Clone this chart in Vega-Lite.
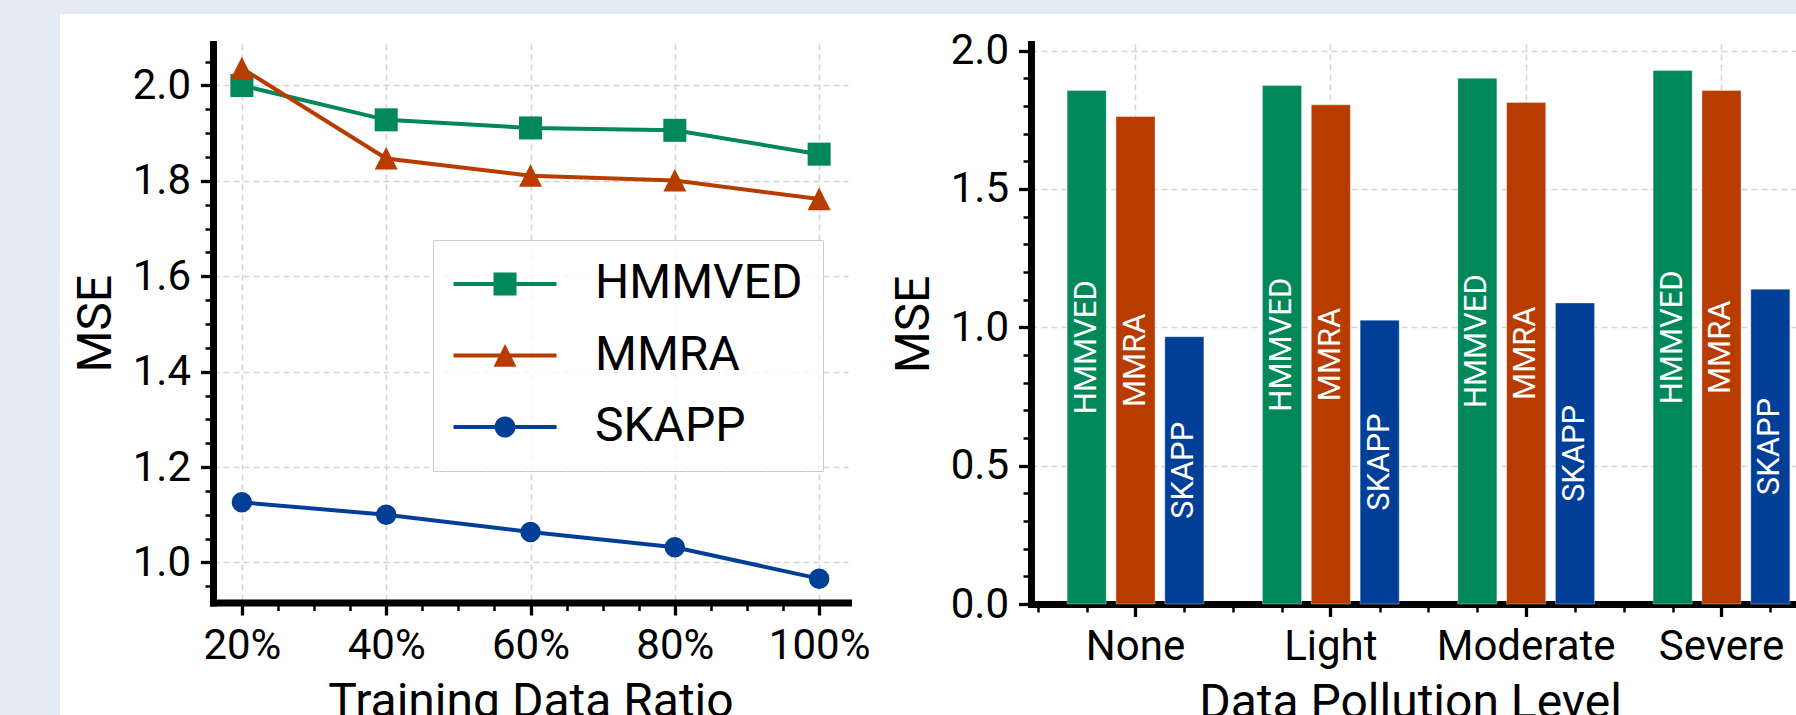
{
  "$schema": "https://vega.github.io/schema/vega-lite/v6.json",
  "autosize": {"type": "none"},
  "padding": {"left": 0, "top": 0, "right": 1796, "bottom": 715},
  "background": "#ffffff",
  "config": {
    "font": "Roboto",
    "view": {"stroke": null},
    "axis": {
      "labelFont": "Roboto", "labelFontSize": 42, "labelColor": "#000000",
      "titleFont": "Roboto", "titleFontSize": 48, "titleFontWeight": "normal", "titleColor": "#000000",
      "domainColor": "#000000", "domainWidth": 7, "domainCap": "square",
      "tickColor": "#000000", "tickWidth": 3.3, "tickSize": 12.5,
      "gridColor": "#d4d4d4", "gridDash": [6, 4], "gridWidth": 1.5,
      "labelPadding": 10, "titlePadding": 12, "labelFlush": false, "labelOverlap": false, "zindex": 1
    }
  },
  "bounds": "flush",
  "spacing": 0,
  "vconcat": [
    {"width": 1796, "height": 14, "data": {"values": []}, "mark": "rect", "view": {"fill": "#e4ebf4", "stroke": null}},
    {
      "bounds": "flush",
      "spacing": 153,
      "hconcat": [
        {"width": 60, "height": 701, "data": {"values": []}, "mark": "rect", "view": {"fill": "#e4ebf4", "stroke": null}},
        {
          "bounds": "flush",
          "spacing": 0,
          "vconcat": [
            {"width": 1, "height": 29.5, "data": {"values": []}, "mark": "rect"},
            {
              "bounds": "flush",
              "spacing": 183,
              "hconcat": [
                {
                  "width": 635,
                  "height": 558.5,
                  "data": {"values": [
                    {"ratio": 20, "model": "HMMVED", "mse": 2.000},
                    {"ratio": 40, "model": "HMMVED", "mse": 1.928},
                    {"ratio": 60, "model": "HMMVED", "mse": 1.911},
                    {"ratio": 80, "model": "HMMVED", "mse": 1.906},
                    {"ratio": 100, "model": "HMMVED", "mse": 1.856},
                    {"ratio": 20, "model": "MMRA", "mse": 2.036},
                    {"ratio": 40, "model": "MMRA", "mse": 1.847},
                    {"ratio": 60, "model": "MMRA", "mse": 1.811},
                    {"ratio": 80, "model": "MMRA", "mse": 1.801},
                    {"ratio": 100, "model": "MMRA", "mse": 1.762},
                    {"ratio": 20, "model": "SKAPP", "mse": 1.126},
                    {"ratio": 40, "model": "SKAPP", "mse": 1.100},
                    {"ratio": 60, "model": "SKAPP", "mse": 1.064},
                    {"ratio": 80, "model": "SKAPP", "mse": 1.032},
                    {"ratio": 100, "model": "SKAPP", "mse": 0.966}
                  ]},
                  "layer": [
                    {
                      "mark": {"type": "line", "strokeWidth": 4},
                      "encoding": {
                        "x": {"field": "ratio", "type": "quantitative", "scale": {"domain": [16, 104], "nice": false, "zero": false},
                              "axis": {"orient": "bottom", "values": [20, 40, 60, 80, 100], "labelExpr": "datum.value + '%'", "title": "Training Data Ratio", "grid": true}},
                        "y": {"field": "mse", "type": "quantitative", "scale": {"domain": [0.916, 2.087], "nice": false, "zero": false},
                              "axis": {"orient": "left", "values": [1.0, 1.2, 1.4, 1.6, 1.8, 2.0], "format": ".1f", "title": "MSE", "grid": true}},
                        "color": {"field": "model", "type": "nominal",
                                  "scale": {"domain": ["HMMVED", "MMRA", "SKAPP"], "range": ["#00885a", "#b83c00", "#003f98"]},
                                  "legend": {
                                    "orient": "none", "legendX": 433, "legendY": 240, "title": null,
                                    "labelFont": "Roboto", "labelFontSize": 48, "labelColor": "#000000", "labelLimit": 0,
                                    "symbolSize": 529, "symbolStrokeWidth": 0, "symbolOffset": -12, "labelOffset": 106,
                                    "padding": 20, "rowPadding": 23.5,
                                    "strokeColor": "#cccccc", "fillColor": "rgba(255,255,255,0.8)"
                                  }}
                      }
                    },
                    {
                      "transform": [{"filter": "datum.model === 'HMMVED'"}],
                      "mark": {"type": "point", "shape": "square", "filled": true, "size": 529, "opacity": 1},
                      "encoding": {
                        "x": {"field": "ratio", "type": "quantitative", "scale": {"domain": [16, 104], "nice": false, "zero": false}, "axis": null},
                        "y": {"field": "mse", "type": "quantitative", "scale": {"domain": [0.916, 2.087], "nice": false, "zero": false}, "axis": null},
                        "color": {"field": "model", "type": "nominal", "scale": {"domain": ["HMMVED", "MMRA", "SKAPP"], "range": ["#00885a", "#b83c00", "#003f98"]}, "legend": null}
                      }
                    },
                    {
                      "transform": [{"filter": "datum.model === 'MMRA'"}],
                      "mark": {"type": "point", "shape": "M0,-1L1,0.97H-1Z", "filled": true, "size": 529, "opacity": 1},
                      "encoding": {
                        "x": {"field": "ratio", "type": "quantitative", "scale": {"domain": [16, 104], "nice": false, "zero": false}, "axis": null},
                        "y": {"field": "mse", "type": "quantitative", "scale": {"domain": [0.916, 2.087], "nice": false, "zero": false}, "axis": null},
                        "color": {"field": "model", "type": "nominal", "scale": {"domain": ["HMMVED", "MMRA", "SKAPP"], "range": ["#00885a", "#b83c00", "#003f98"]}, "legend": null}
                      }
                    },
                    {
                      "transform": [{"filter": "datum.model === 'SKAPP'"}],
                      "mark": {"type": "point", "shape": "circle", "filled": true, "size": 420, "opacity": 1},
                      "encoding": {
                        "x": {"field": "ratio", "type": "quantitative", "scale": {"domain": [16, 104], "nice": false, "zero": false}, "axis": null},
                        "y": {"field": "mse", "type": "quantitative", "scale": {"domain": [0.916, 2.087], "nice": false, "zero": false}, "axis": null},
                        "color": {"field": "model", "type": "nominal", "scale": {"domain": ["HMMVED", "MMRA", "SKAPP"], "range": ["#00885a", "#b83c00", "#003f98"]}, "legend": null}
                      }
                    },
                    {
                      "data": {"values": []},
                      "mark": {"type": "point", "filled": true, "size": 529, "opacity": 1},
                      "encoding": {
                        "x": {"field": "ratio", "type": "quantitative", "scale": {"domain": [16, 104], "nice": false, "zero": false}, "axis": null},
                        "y": {"field": "mse", "type": "quantitative", "scale": {"domain": [0.916, 2.087], "nice": false, "zero": false}, "axis": null},
                        "color": {"field": "model", "type": "nominal",
                                  "scale": {"domain": ["HMMVED", "MMRA", "SKAPP"], "range": ["#00885a", "#b83c00", "#003f98"]}, "legend": null},
                        "shape": {"field": "model", "type": "nominal",
                                  "scale": {"domain": ["HMMVED", "MMRA", "SKAPP"], "range": [
                                    "M-1,-0.17H7.96V0.17H-1Z M2.48,-1H4.48V1H2.48Z",
                                    "M-1,-0.17H7.96V0.17H-1Z M3.48,-1L4.48,0.97H2.48Z",
                                    "M-1,-0.17H7.96V0.17H-1Z M2.57,0A0.91,0.91 0 1,1 4.39,0A0.91,0.91 0 1,1 2.57,0Z"]},
                                  "legend": null}
                      }
                    },
                    {
                      "data": {"values": []},
                      "mark": "point",
                      "encoding": {
                        "x": {"field": "ratio", "type": "quantitative", "scale": {"domain": [16, 104], "nice": false, "zero": false},
                              "axis": {"orient": "bottom", "values": [25, 30, 35, 45, 50, 55, 65, 70, 75, 85, 90, 95], "labels": false, "domain": false, "grid": false, "title": null, "tickSize": 8, "tickWidth": 2.5}},
                        "y": {"field": "mse", "type": "quantitative", "scale": {"domain": [0.916, 2.087], "nice": false, "zero": false},
                              "axis": {"orient": "left", "values": [0.95, 1.05, 1.1, 1.15, 1.25, 1.3, 1.35, 1.45, 1.5, 1.55, 1.65, 1.7, 1.75, 1.85, 1.9, 1.95, 2.05], "labels": false, "domain": false, "grid": false, "title": null, "tickSize": 8, "tickWidth": 2.5}}
                      }
                    }
                  ],
                  "resolve": {"axis": {"x": "independent", "y": "independent"}}
                },
                {
                  "width": 758,
                  "height": 560,
                  "data": {"values": [
                    {"level": "None", "model": "HMMVED", "mse": 1.856},
                    {"level": "None", "model": "MMRA", "mse": 1.762},
                    {"level": "None", "model": "SKAPP", "mse": 0.966},
                    {"level": "Light", "model": "HMMVED", "mse": 1.874},
                    {"level": "Light", "model": "MMRA", "mse": 1.804},
                    {"level": "Light", "model": "SKAPP", "mse": 1.026},
                    {"level": "Moderate", "model": "HMMVED", "mse": 1.900},
                    {"level": "Moderate", "model": "MMRA", "mse": 1.813},
                    {"level": "Moderate", "model": "SKAPP", "mse": 1.088},
                    {"level": "Severe", "model": "HMMVED", "mse": 1.928},
                    {"level": "Severe", "model": "MMRA", "mse": 1.856},
                    {"level": "Severe", "model": "SKAPP", "mse": 1.138}
                  ]},
                  "layer": [
                    {
                      "mark": {"type": "bar", "stroke": "#ffffff", "strokeWidth": 0.6, "strokeOpacity": 0.6},
                      "encoding": {
                        "x": {"field": "level", "type": "nominal", "sort": ["None", "Light", "Moderate", "Severe"],
                              "scale": {"range": [0, 795], "paddingInner": 0, "paddingOuter": 0.035},
                              "axis": {"orient": "bottom", "title": "Data Pollution Level", "titleX": 379, "labelAngle": 0, "grid": true, "bandPosition": 0.5}},
                        "xOffset": {"field": "model", "type": "nominal", "sort": ["HMMVED", "MMRA", "SKAPP"], "scale": {"paddingInner": 0.2, "paddingOuter": 0.6}},
                        "y": {"field": "mse", "type": "quantitative", "scale": {"domain": [0, 2.024], "nice": false},
                              "axis": {"orient": "left", "values": [0, 0.5, 1.0, 1.5, 2.0], "format": ".1f", "title": "MSE", "grid": true}},
                        "color": {"field": "model", "type": "nominal", "scale": {"domain": ["HMMVED", "MMRA", "SKAPP"], "range": ["#00885a", "#b83c00", "#003f98"]}, "legend": null}
                      }
                    },
                    {
                      "mark": {"type": "text", "angle": 270, "color": "#ffffff", "font": "Roboto", "fontSize": 31, "align": "center", "baseline": "middle"},
                      "encoding": {
                        "x": {"field": "level", "type": "nominal", "sort": ["None", "Light", "Moderate", "Severe"],
                              "scale": {"range": [0, 795], "paddingInner": 0, "paddingOuter": 0.035}, "axis": null},
                        "xOffset": {"field": "model", "type": "nominal", "sort": ["HMMVED", "MMRA", "SKAPP"], "scale": {"type": "point", "padding": 1}},
                        "y": {"field": "mse", "type": "quantitative", "scale": {"domain": [0, 4.048], "nice": false}, "axis": null},
                        "text": {"field": "model"}
                      }
                    },
                    {
                      "data": {"values": []},
                      "mark": "point",
                      "encoding": {
                        "x": {"field": "pos", "type": "quantitative", "scale": {"domain": [-0.535, 3.346], "nice": false, "zero": false},
                              "axis": {"orient": "bottom", "values": [-0.5, -0.25, 0.25, 0.5, 0.75, 1.25, 1.5, 1.75, 2.25, 2.5, 2.75, 3.25], "labels": false, "domain": false, "grid": false, "title": null, "tickSize": 8, "tickWidth": 2.5}},
                        "y": {"field": "mse", "type": "quantitative", "scale": {"domain": [0, 2.024], "nice": false},
                              "axis": {"orient": "left", "values": [0.1, 0.2, 0.3, 0.4, 0.6, 0.7, 0.8, 0.9, 1.1, 1.2, 1.3, 1.4, 1.6, 1.7, 1.8, 1.9], "labels": false, "domain": false, "grid": false, "title": null, "tickSize": 8, "tickWidth": 2.5}}
                      }
                    }
                  ],
                  "resolve": {"scale": {"x": "independent", "y": "independent", "xOffset": "independent"}, "axis": {"x": "independent", "y": "independent"}}
                }
              ]
            }
          ]
        }
      ]
    }
  ]
}
